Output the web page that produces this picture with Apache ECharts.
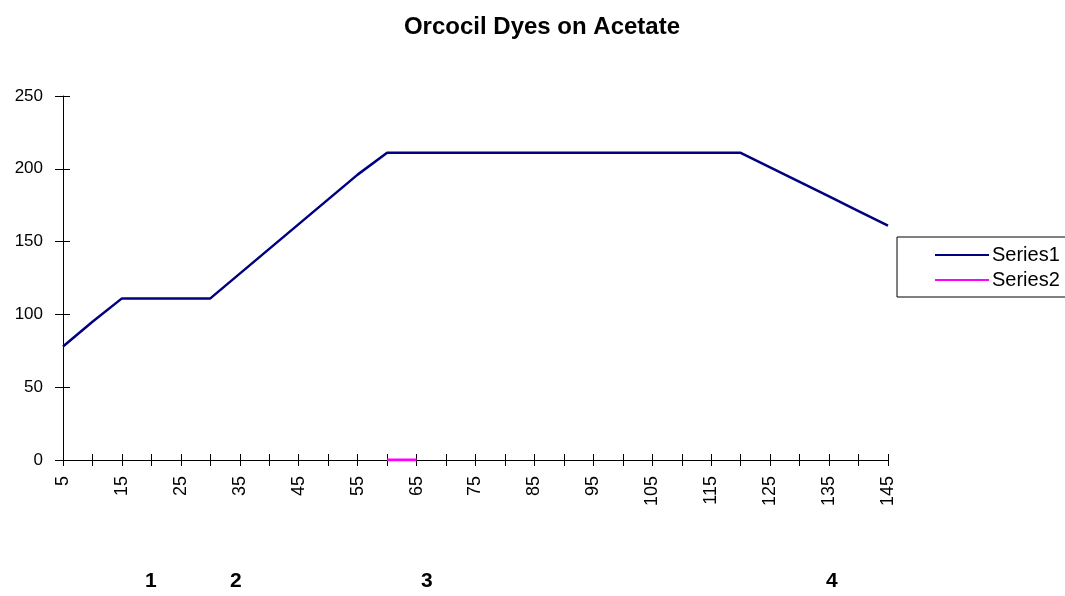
<!DOCTYPE html>
<html>
<head>
<meta charset="utf-8">
<script src="https://cdn.jsdelivr.net/npm/echarts@6/dist/echarts.min.js"></script>
<style>
  html, body { margin: 0; padding: 0; background: #fff; }
  #chart { width: 1065px; height: 596px; }
</style>
</head>
<body>
<div id="chart"></div>
<script>
// x categories 5..145 step 5
const categories = ['5', '10', '15', '20', '25', '30', '35', '40', '45', '50',
  '55', '60', '65', '70', '75', '80', '85', '90', '95', '100',
  '105', '110', '115', '120', '125', '130', '135', '140', '145']
const series1 = [78, 95, 111, 111, 111, 111, 128, 145, 162, 179,
  196, 211, 211, 211, 211, 211, 211, 211, 211, 211,
  211, 211, 211, 211, 201, 191, 181, 171, 161]
const series2 = [null, null, null, null, null, null, null, null, null, null,
  null, 0, 0, null, null, null, null, null, null, null,
  null, null, null, null, null, null, null, null, null]
const stepLabels = ['1', '2', '3', '4']

const font = 'Liberation Sans, Arial, sans-serif'
const chart = echarts.init(document.getElementById('chart'))

const hiddenAxis = {
  axisLine: { show: false },
  axisLabel: { show: false },
  splitLine: { show: false }
}

const option = {
  animation: false,
  title: {
    text: 'Orcocil Dyes on Acetate',
    left: 537,
    top: 10,
    textAlign: 'center',
    textStyle: { fontFamily: font, fontSize: 24, fontWeight: 'bold', color: '#000' }
  },
  grid: { left: 63, right: 177, top: 96, bottom: 136 },
  legend: {
    orient: 'vertical',
    left: 897,
    top: 237,
    padding: [8, 30, 7, 38],
    itemGap: 5,
    itemWidth: 54,
    itemHeight: 2,
    icon: 'rect',
    borderColor: '#000',
    borderWidth: 1,
    borderRadius: 0,
    textStyle: { fontFamily: font, fontSize: 20, color: '#000', padding: [0, 0, 0, -2] },
    data: ['Series1', 'Series2']
  },
  xAxis: [{
    type: 'category',
    data: categories,
    boundaryGap: false,
    axisLine: { lineStyle: { color: '#000', width: 1 } },
    axisTick: { show: true, interval: 0, length: 6, lineStyle: { color: '#000' } },
    axisLabel: {
      interval: 1,
      rotate: 90,
      margin: 16,
      fontFamily: font,
      fontSize: 18,
      color: '#000'
    },
    splitLine: { show: false }
  }, Object.assign({
    type: 'category',
    data: categories,
    boundaryGap: false,
    position: 'bottom',
    axisTick: { show: true, inside: true, interval: 0, length: 6, lineStyle: { color: '#000' } }
  }, hiddenAxis)],
  yAxis: [{
    type: 'value',
    min: 0,
    max: 250,
    interval: 50,
    axisLine: { show: true, lineStyle: { color: '#000', width: 1 } },
    axisTick: { show: true, length: 8, lineStyle: { color: '#000' } },
    axisLabel: { margin: 20, fontFamily: font, fontSize: 17, color: '#000' },
    splitLine: { show: false }
  }, Object.assign({
    type: 'value',
    min: 0,
    max: 250,
    interval: 50,
    position: 'left',
    axisTick: { show: true, inside: true, length: 7, lineStyle: { color: '#000' } }
  }, hiddenAxis)],
  series: [{
    name: 'Series1',
    type: 'line',
    data: series1,
    showSymbol: false,
    itemStyle: { color: '#000080' },
    lineStyle: { color: '#000080', width: 2.5 },
    z: 3
  }, {
    name: 'Series2',
    type: 'line',
    data: series2,
    showSymbol: false,
    itemStyle: { color: '#ff00ff' },
    lineStyle: { color: '#ff00ff', width: 3 },
    z: 4
  }],
  graphic: stepLabels.map((t, i) => ({
    type: 'text',
    left: [145, 230, 421, 826][i],
    top: 571,
    style: { text: t, fontFamily: font, fontSize: 21, fontWeight: 'bold', fill: '#000' }
  }))
}

chart.setOption(option)
</script>
</body>
</html>
